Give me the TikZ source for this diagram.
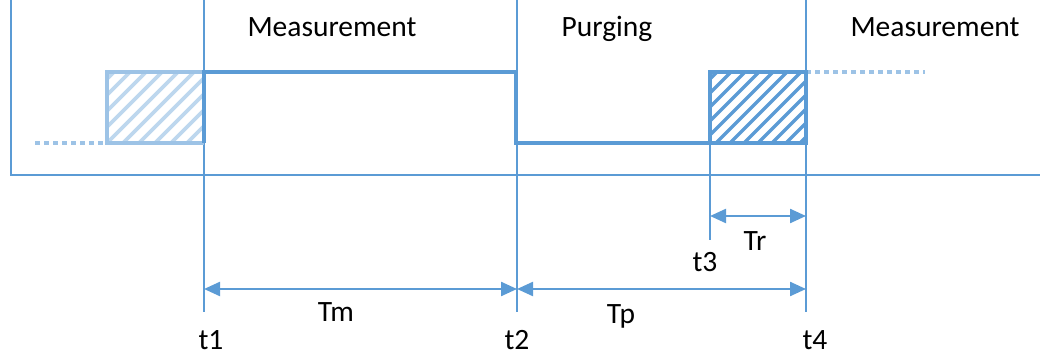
\documentclass[tikz,border=0pt]{standalone}
\usepackage{fontspec}
\setmainfont{Carlito}
\usetikzlibrary{arrows.meta}
\definecolor{mb}{HTML}{5B9BD5}
\definecolor{lb}{HTML}{9DC3E6}
\definecolor{hb}{HTML}{BDD7EE}
\begin{document}
\begin{tikzpicture}[x=1pt,y=-1pt,
  gridline/.style={mb, line width=2.3pt},
  sig/.style={mb, line width=3.6pt, line join=miter},
  lsig/.style={lb, line width=3.6pt, line join=miter},
  dotline/.style={lb, line width=3.6pt, dash pattern=on 5pt off 4pt},
  dim/.style={mb, line width=2.3pt, {Triangle[length=16pt,width=14pt]}-{Triangle[length=16pt,width=14pt]}},
  lbl/.style={font=\fontsize{29.5}{34}\selectfont, anchor=base, inner sep=0pt, text=black}]
\useasboundingbox (0,0) rectangle (1040,355);
% axes
\coordinate (ytop) at (11,0);
\coordinate (orig) at (11,175);
\coordinate (xend) at (1040,175);
\draw[gridline] (ytop) -- (orig) -- (xend);
% time markers
\coordinate (t1a) at (204,0);   \coordinate (t1b) at (204,312);
\coordinate (t2a) at (517,0);   \coordinate (t2b) at (517,312);
\coordinate (t3a) at (710,72);  \coordinate (t3b) at (710,240);
\coordinate (t4a) at (806,0);   \coordinate (t4b) at (806,312);
\draw[gridline] (t1a) -- (t1b);
\draw[gridline] (t2a) -- (t2b);
\draw[gridline] (t3a) -- (t3b);
\draw[gridline] (t4a) -- (t4b);
% left hatched box
\begin{scope}
  \clip (107,72) rectangle (204,143);
  \foreach \k in {-80,-64,...,112} {
    \draw[hb, line width=3.8pt] (107+\k,143) -- (178+\k,72);
  }
\end{scope}
\coordinate (lb1) at (107,143); \coordinate (lb2) at (107,72);
\coordinate (lb3) at (204,72);  \coordinate (lb4) at (204,143);
\coordinate (ld0) at (35,143);
\draw[dotline] (ld0) -- (lb1);
\draw[lsig] (lb4) -- (lb1) -- (lb2) -- (lb3);
% right hatched box
\begin{scope}
  \clip (710,72) rectangle (806,143);
  \foreach \k in {-78,-64,...,112} {
    \draw[mb, line width=3.4pt] (710+\k,143) -- (781+\k,72);
  }
\end{scope}
\coordinate (r1) at (710,143); \coordinate (r2) at (710,72);
\coordinate (r3) at (806,72);  \coordinate (r4) at (806,143);
\coordinate (rd1) at (925,72);
\draw[dotline] (r3) -- (rd1);
% signal
\coordinate (s1) at (204,143); \coordinate (s2) at (204,72);
\coordinate (s3) at (516,72);  \coordinate (s4) at (516,143);
\draw[sig] (s1) -- (s2) -- (s3) -- (s4) -- (r1) -- (r2) -- (r3) -- (r4) -- (r1);
% dimensions
\coordinate (dm1) at (204,289); \coordinate (dm2) at (517,289);
\coordinate (dp2) at (806,289);
\coordinate (dr1) at (710,216); \coordinate (dr2) at (806,216);
\draw[dim] (dm1) -- (dm2);
\draw[dim] (dm2) -- (dp2);
\draw[dim] (dr1) -- (dr2);
% labels
\node[lbl] (meas1) at (332,37) {Measurement};
\node[lbl] (purg) at (607,37) {Purging};
\node[lbl] (meas2) at (935,37) {Measurement};
\node[lbl] (tm) at (336,321) {Tm};
\node[lbl] (tp) at (621,323) {Tp};
\node[lbl] (tr) at (755,251) {Tr};
\node[lbl] (lt1) at (211,349) {t1};
\node[lbl] (lt2) at (517,349) {t2};
\node[lbl] (lt3) at (705,271) {t3};
\node[lbl] (lt4) at (815,349) {t4};
\end{tikzpicture}
\end{document}
